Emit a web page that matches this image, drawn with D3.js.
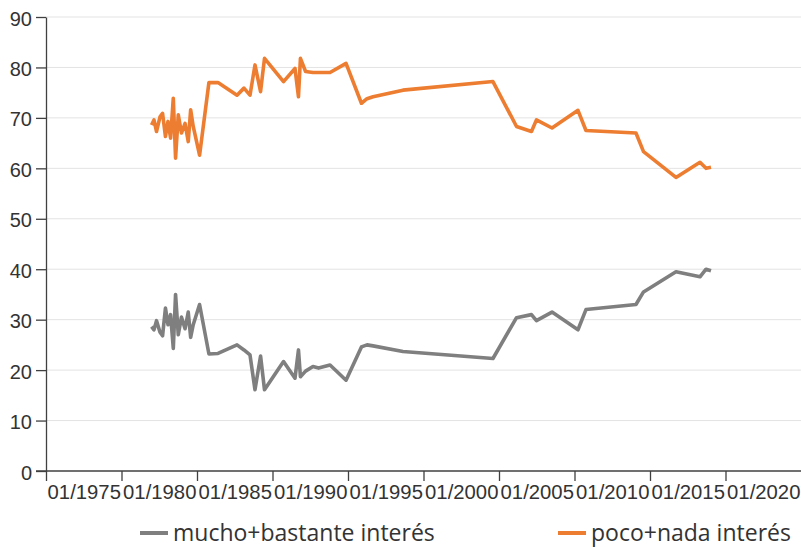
<!DOCTYPE html>
<html>
<head>
<meta charset="utf-8">
<script src="https://cdn.jsdelivr.net/npm/d3@7"></script>
<style>
    body { margin: 0; background: #fff; }
    svg { display: block; font-family: "Open Sans", sans-serif; }
    .grid line { stroke: #e3e3e3; stroke-width: 1; }
    .axis path, .axis line { stroke: #404040; stroke-width: 1.3; }
    .axis text { fill: #333; font-size: 20px; }
    .x.axis text { font-size: 20.3px; }
    .legend text { fill: #333; font-size: 23px; }
</style>
</head>
<body>
<script>
//survey dates as decimal years
var dates = [1981.99, 1982.15, 1982.32, 1982.55, 1982.72, 1982.91, 1983.08, 1983.25, 1983.43, 1983.58,
    1983.76, 1983.97, 1984.21, 1984.42, 1984.58, 1984.75, 1985.17, 1985.79, 1986.39, 1987.65,
    1988.11, 1988.51, 1988.84, 1989.21, 1989.47, 1990.73, 1991.49, 1991.72, 1991.85, 1992.19,
    1992.68, 1993.05, 1993.81, 1994.87, 1995.89, 1996.26, 1996.66, 1998.64, 2004.60, 2006.16,
    2007.15, 2007.48, 2008.51, 2010.23, 2010.76, 2014.07, 2014.57, 2016.72, 2018.31, 2018.71,
    2019.04];

//mucho+bastante interés
var muchoBastante = [28.6, 28.0, 29.8, 27.5, 26.8, 32.3, 29.0, 31.0, 24.3, 35.0,
    27.0, 30.5, 28.2, 31.5, 26.5, 29.0, 33.0, 23.2, 23.3, 25.0,
    24.0, 23.0, 16.1, 22.8, 16.1, 21.7, 18.4, 24.0, 18.7, 19.8,
    20.7, 20.4, 21.0, 18.0, 24.6, 25.0, 24.8, 23.7, 22.3, 30.4,
    31.0, 29.8, 31.5, 28.0, 32.0, 33.0, 35.5, 39.5, 38.5, 40.0,
    39.7];

//poco+nada interés
var pocoNada = [68.6, 69.6, 67.3, 70.2, 70.9, 66.3, 69.3, 66.0, 73.9, 62.0,
    70.6, 67.0, 68.9, 65.3, 71.6, 68.3, 62.6, 77.0, 77.0, 74.5,
    75.9, 74.5, 80.5, 75.2, 81.8, 77.2, 79.8, 74.2, 81.8, 79.2,
    79.0, 79.0, 79.0, 80.8, 72.9, 73.8, 74.2, 75.5, 77.2, 68.3,
    67.3, 69.6, 68.0, 71.5, 67.5, 67.0, 63.3, 58.2, 61.2, 60.0,
    60.2];

var yTicks = [0, 10, 20, 30, 40, 50, 60, 70, 80, 90];
var xTicks = [1975, 1980, 1985, 1990, 1995, 2000, 2005, 2010, 2015, 2020];

var seriesNames = ["mucho+bastante interés", "poco+nada interés"];
var seriesColors = ["#7f7f7f", "#ed7d31"];

window.onload = drawChart();

function drawChart() {
    var width = 801,
        height = 548;

    var left = 46, right = 801, top = 17, bottom = 471;

    var svg = d3.select("body")
        .append("svg")
        .attr("width", width)
        .attr("height", height);

    var x = d3.scaleLinear().domain([1975, 2025]).range([left, right]);
    var y = d3.scaleLinear().domain([0, 90]).range([bottom, top]);

    //horizontal grid lines
    svg.append("g")
        .attr("class", "grid")
        .selectAll("line")
        .data(yTicks.slice(1))
        .enter()
        .append("line")
        .attr("x1", left)
        .attr("x2", right)
        .attr("y1", function(d) { return y(d); })
        .attr("y2", function(d) { return y(d); });

    //y axis
    var yAxis = svg.append("g")
        .attr("class", "y axis")
        .attr("transform", "translate(" + left + ",0)")
        .call(d3.axisLeft(y).tickValues(yTicks).tickSize(10).tickSizeOuter(0).tickPadding(4));
    yAxis.selectAll("text").attr("dy", "0.4em");

    //x axis
    var xAxis = svg.append("g")
        .attr("class", "x axis")
        .attr("transform", "translate(0," + bottom + ")")
        .call(d3.axisBottom(x).tickValues(xTicks).tickSize(10).tickSizeOuter(0)
            .tickFormat(function(d) { return "01/" + d; }));
    xAxis.select(".domain").attr("d", "M" + (left - 10) + ",0H" + right);
    xAxis.selectAll("text")
        .attr("text-anchor", "middle")
        .attr("x", (x(1980) - x(1975)) / 2)
        .attr("y", 14)
        .attr("dy", "0.71em");

    //lines
    var series = [muchoBastante, pocoNada];
    var line = d3.line()
        .x(function(d, i) { return x(dates[i]); })
        .y(function(d) { return y(d); });

    svg.selectAll(".series")
        .data(series)
        .enter()
        .append("path")
        .attr("class", "series")
        .attr("fill", "none")
        .attr("stroke", function(d, i) { return seriesColors[i]; })
        .attr("stroke-width", 3.6)
        .attr("stroke-linejoin", "round")
        .attr("d", line);

    //legend
    var legendX = [140, 558];
    var legend = svg.append("g").attr("class", "legend");
    var items = legend.selectAll("g")
        .data(seriesNames)
        .enter()
        .append("g")
        .attr("transform", function(d, i) { return "translate(" + legendX[i] + ",533)"; });
    items.append("line")
        .attr("x1", 0)
        .attr("x2", 28)
        .attr("stroke", function(d, i) { return seriesColors[i]; })
        .attr("stroke-width", 4);
    items.append("text")
        .attr("x", 33)
        .attr("dy", "0.36em")
        .text(function(d) { return d; });
};
</script>
</body>
</html>
